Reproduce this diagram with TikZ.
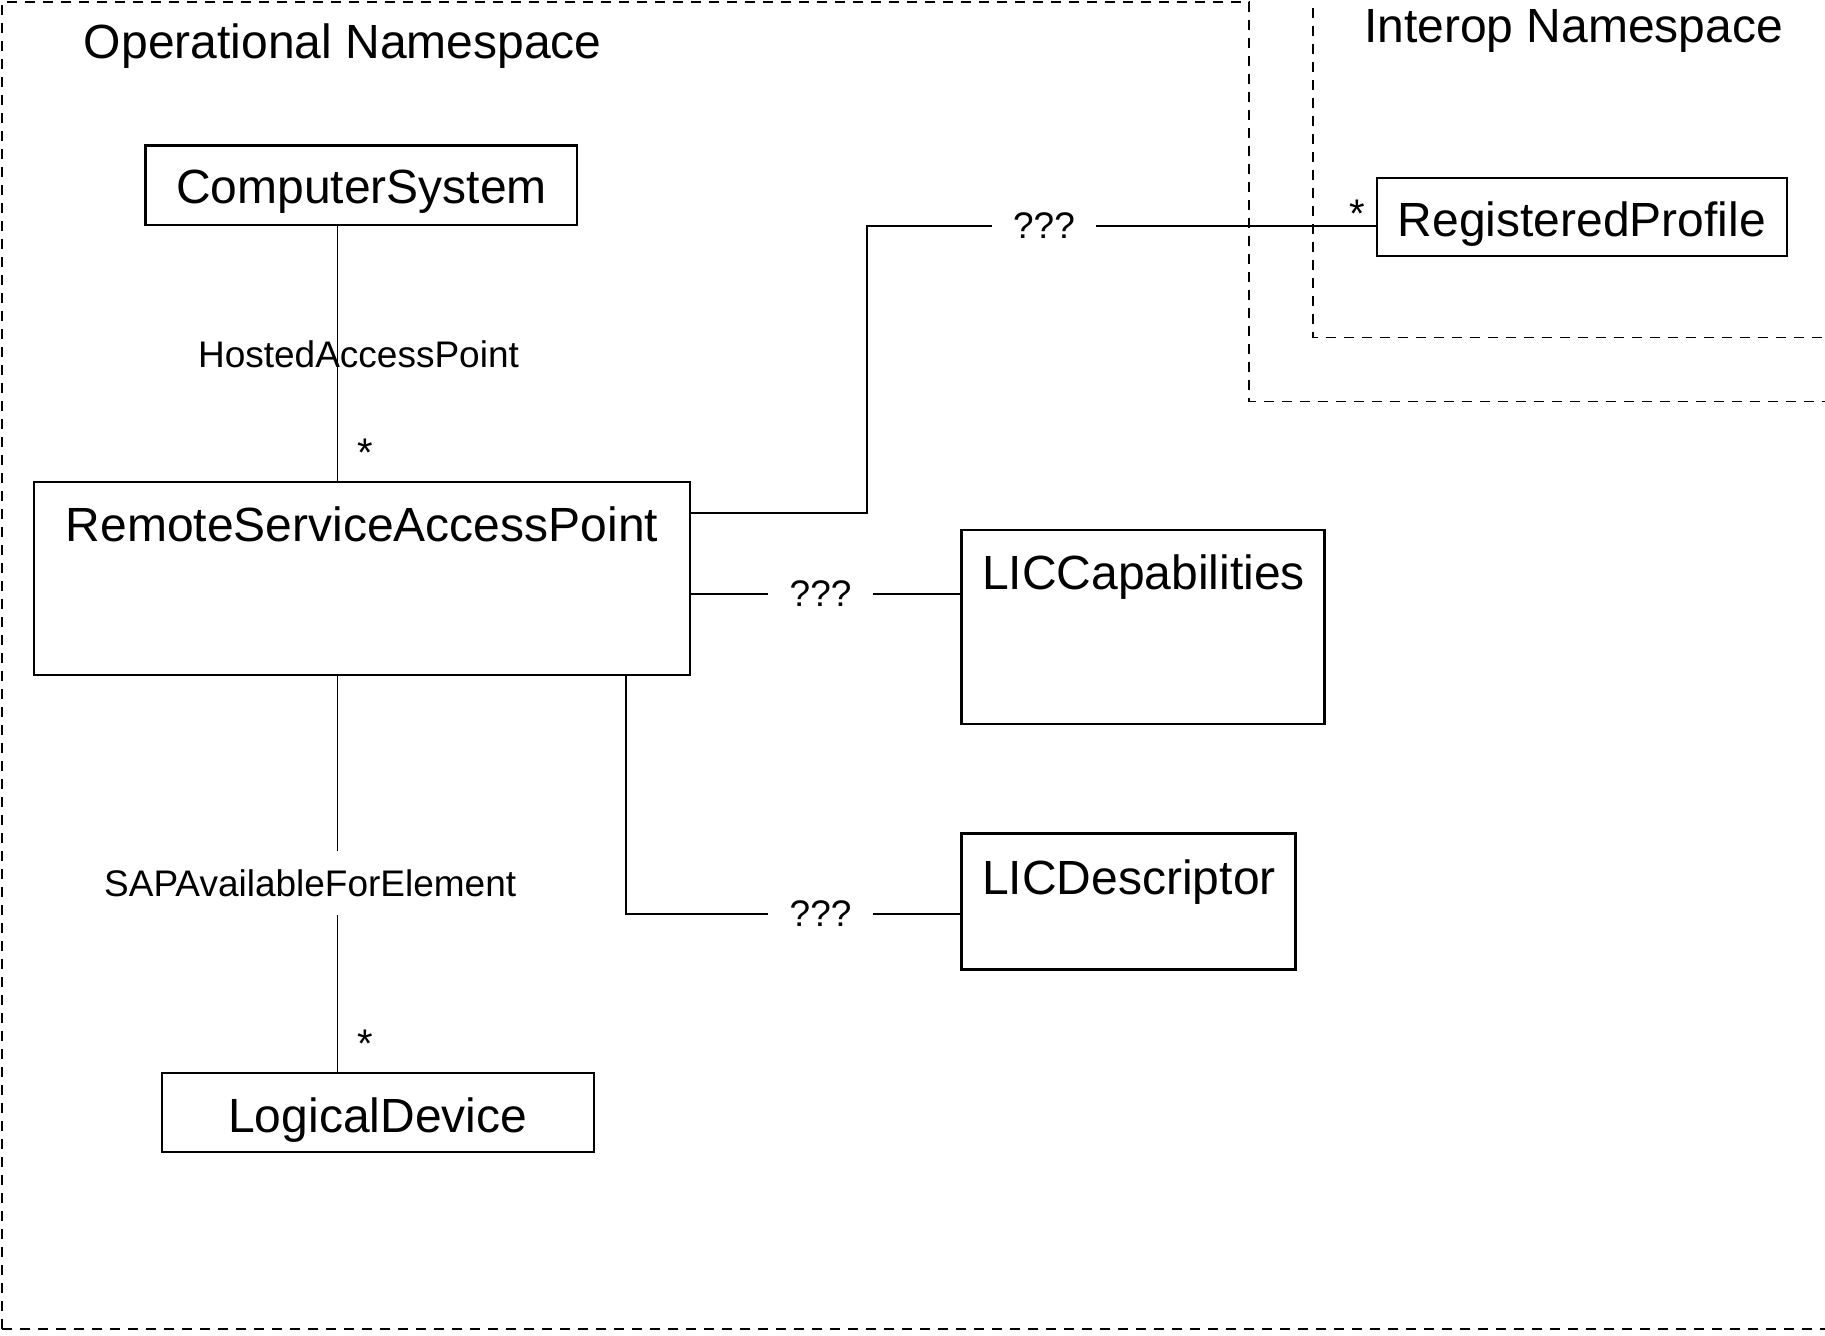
\documentclass[tikz,border=0pt]{standalone}
\usepackage{fontspec}
\setmainfont{Liberation Sans}
\usetikzlibrary{fit}
\begin{document}
\begin{tikzpicture}[x=0.5pt,y=-0.5pt,
  box/.style={draw,line width=1.1pt,inner sep=0pt},
  big/.style={font=\fontsize{24}{28}\selectfont,inner sep=0pt},
  small/.style={font=\fontsize{18.5}{22}\selectfont,inner sep=0pt},
  star/.style={font=\fontsize{20}{24}\selectfont,inner sep=0pt},
  conn/.style={line width=0.9pt},
  ns/.style={line width=0.8pt,dash pattern=on 5pt off 4pt},
  gap/.style={small,inner xsep=10.5pt,inner ysep=8pt}]
\useasboundingbox (0,0) rectangle (1825,1335);
% namespaces
\draw[ns] (1313,-10) -- (1313,337.5) -- (1840,337.5);
\draw[ns] (2,1329) -- (2,2) -- (1249,2) -- (1249,401.5) -- (1840,401.5);
\draw[ns] (2,1329) -- (1840,1329);
\node[big,anchor=base] (opT) at (342.8,58.4) {Operational Namespace};
\node[big,anchor=base] (ioT) at (1573.6,42) {Interop Namespace};
% boxes
\node[box,fit={(145.5,145.5)(577.3,224.6)}] (cs) {};
\node[big,anchor=base] (csT) at (361.4,203.7) {ComputerSystem};
\node[box,fit={(1377,178)(1786.6,256)}] (rp) {};
\node[big,anchor=base] (rpT) at (1581.8,236.3) {RegisteredProfile};
\node[box,fit={(33.8,481.9)(690.2,675)}] (rsap) {};
\node[big,anchor=base] (rsapT) at (362,541) {RemoteServiceAccessPoint};
\node[box,fit={(961.4,529.6)(1324.5,724)}] (lcap) {};
\node[big,anchor=base] (lcapT) at (1143.6,589) {LICCapabilities};
\node[box,fit={(961.4,833.4)(1295.4,969.5)}] (ldesc) {};
\node[big,anchor=base] (ldescT) at (1129,894) {LICDescriptor};
\node[box,fit={(161.8,1073)(593.6,1152.3)}] (ld) {};
\node[big,anchor=base] (ldT) at (377.7,1132.5) {LogicalDevice};
% CS - RSAP
\coordinate (hx) at (337.5,0);
\draw[conn] (cs.south -| hx) -- (rsap.north -| hx);
\node[small,anchor=base] (hap) at (358.5,367.8) {HostedAccessPoint};
\node[star,anchor=base] (st1) at (365.5,466) {*};
% RSAP - RP
\coordinate (b1) at (867,513.3);
\node[gap] (q1) at (1044,225.8) {???};
\draw[conn] (rsap.east |- b1) -- (b1) -- (b1 |- q1) -- (q1.west);
\draw[conn] (q1.east) -- (rp.west |- q1);
\node[star,anchor=base] (st2) at (1357,227) {*};
% RSAP - LICCapabilities
\node[gap] (q2) at (820.6,593.6) {???};
\draw[conn] (rsap.east |- q2) -- (q2.west);
\draw[conn] (q2.east) -- (lcap.west |- q2);
% RSAP - LICDescriptor
\coordinate (b2) at (626.2,0);
\node[gap] (q3) at (820.6,913.7) {???};
\draw[conn] (rsap.south -| b2) -- (b2 |- q3) -- (q3.west);
\draw[conn] (q3.east) -- (ldesc.west |- q3);
% RSAP - LogicalDevice
\node[small,anchor=base,inner ysep=9pt] (sap) at (310.2,896.2) {SAPAvailableForElement};
\draw[conn] (rsap.south -| hx) -- (sap.north -| hx);
\draw[conn] (sap.south -| hx) -- (ld.north -| hx);
\node[star,anchor=base] (st3) at (365.5,1057.5) {*};
\end{tikzpicture}
\end{document}
